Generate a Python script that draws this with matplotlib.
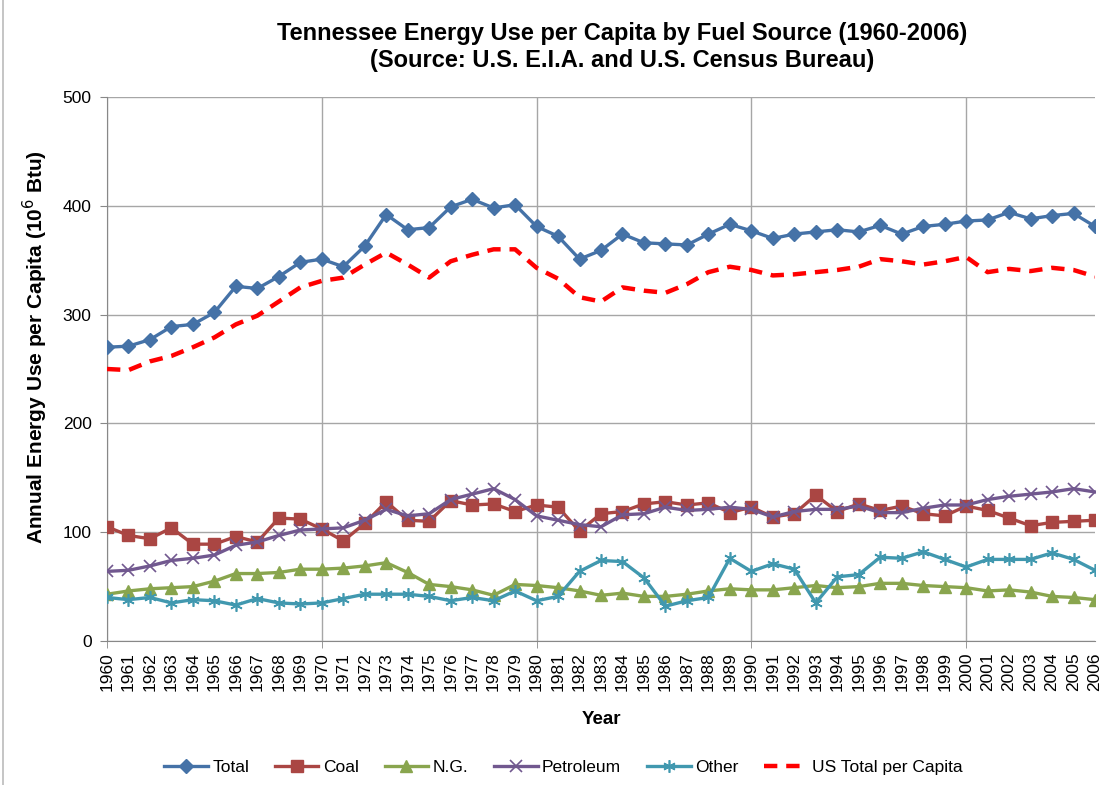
import matplotlib
matplotlib.use("Agg")
import matplotlib.pyplot as plt
from matplotlib.lines import Line2D

plt.rcParams['font.family'] = ['Liberation Sans', 'DejaVu Sans']

# yearly per-capita energy use, million Btu
years = list(range(1960, 2007))

total = [270, 271, 277, 289, 291, 302, 326, 324, 335, 348,
         351, 344, 363, 392, 378, 380, 399, 406, 398, 401,
         381, 372, 351, 359, 374, 366, 365, 364, 374, 383,
         377, 370, 374, 376, 378, 376, 382, 374, 381, 383,
         386, 387, 394, 388, 391, 393, 381]
coal = [105, 97, 94, 104, 89, 89, 96, 91, 113, 112,
        103, 92, 108, 128, 111, 110, 129, 125, 126, 119,
        125, 123, 101, 117, 119, 126, 128, 125, 127, 118,
        123, 114, 117, 134, 119, 126, 120, 124, 117, 115,
        124, 120, 113, 106, 109, 110, 111]
ng = [43, 46, 48, 49, 50, 55, 62, 62, 63, 66,
      66, 67, 69, 72, 63, 52, 50, 47, 42, 52,
      51, 49, 46, 42, 44, 41, 41, 43, 46, 48,
      47, 47, 49, 51, 49, 50, 53, 53, 51, 50,
      49, 46, 47, 45, 41, 40, 38]
petroleum = [64, 65, 69, 74, 76, 79, 88, 91, 97, 102,
             103, 104, 111, 121, 115, 117, 130, 135, 140, 130,
             115, 111, 107, 105, 116, 117, 123, 120, 121, 123,
             121, 114, 119, 121, 121, 124, 118, 118, 122, 125,
             125, 130, 133, 135, 137, 140, 137]
other = [40, 38, 40, 35, 38, 37, 33, 39, 35, 34,
         35, 39, 43, 43, 43, 41, 37, 40, 37, 46,
         37, 41, 64, 74, 73, 58, 32, 37, 40, 76,
         64, 71, 66, 35, 59, 61, 77, 76, 82, 75,
         68, 75, 75, 75, 81, 75, 65]
us_total = [250, 249, 257, 262, 270, 279, 291, 299, 312, 325,
            331, 334, 346, 357, 346, 334, 349, 355, 360, 360,
            343, 333, 316, 312, 325, 322, 320, 328, 339, 344,
            341, 336, 337, 339, 341, 344, 351, 349, 346, 349,
            353, 339, 342, 340, 343, 341, 335]

fig = plt.figure(figsize=(11.05, 7.85), dpi=100)
ax = fig.add_axes([107 / 1105, 1 - 641 / 785, (1095 - 107) / 1105, (641 - 97) / 785])

lw = 2.4
ax.plot(years, total, color="#4572A7", lw=lw, marker="D", ms=7, label="Total", zorder=5)
ax.plot(years, coal, color="#AA4643", lw=lw, marker="s", ms=8, label="Coal", zorder=4)
ax.plot(years, ng, color="#89A54E", lw=lw, marker="^", ms=8, label="N.G.", zorder=3)
ax.plot(years, petroleum, color="#71588F", lw=lw, marker="x", ms=8, mew=1.2,
        label="Petroleum", zorder=4)
ax.plot(years, other, color="#4198AF", lw=lw, marker=(6, 2, 0), ms=9, mew=1.2,
        label="Other", zorder=3)
ax.plot(years, us_total, color="#FF0000", lw=3.2, ls=(0, (3, 2)),
        label="US Total per Capita", zorder=6)

ax.set_xlim(1960, 2006)
ax.set_ylim(0, 500)
ax.set_yticks(range(0, 501, 100))

# every year gets a label, decades get a tick mark and a gridline
ax.xaxis.remove_overlapping_locs = False
ax.set_xticks(years)
ax.set_xticklabels([str(y) for y in years], rotation=90, fontsize=12.5)
ax.set_xticks(range(1960, 2007, 10), minor=True)
ax.tick_params(axis="x", which="major", length=0, pad=8)
ax.tick_params(axis="x", which="minor", length=5, color="#888888")
ax.tick_params(axis="y", length=5, color="#888888", labelsize=12.5, pad=6)

ax.grid(True, axis="y", which="major", color="#A6A6A6", lw=1)
ax.grid(True, axis="x", which="minor", color="#A6A6A6", lw=1)
ax.set_axisbelow(True)
for side in ["top", "right"]:
    ax.spines[side].set_visible(False)
for side in ["left", "bottom"]:
    ax.spines[side].set_color("#888888")

ax.set_xlabel("Year", fontsize=13.5, fontweight="bold", labelpad=14)
ax.set_ylabel("Annual Energy Use per Capita (10$^6$ Btu)", fontsize=15,
              fontweight="bold")
ax.yaxis.set_label_coords(-0.058, 0.54)
fig.text(0.563, 0.94, "Tennessee Energy Use per Capita by Fuel Source (1960-2006)\n"
         "(Source: U.S. E.I.A. and U.S. Census Bureau)",
         ha="center", va="center", fontsize=17, fontweight="bold", linespacing=1.25)

fig.legend(loc="center", bbox_to_anchor=(0.51, 0.022), ncol=6, frameon=False,
           fontsize=12.5, handlelength=2.5, columnspacing=1.5, handletextpad=0.25)

# left edge of the chart frame
fig.lines.append(Line2D([0.003, 0.003], [0, 1], transform=fig.transFigure,
                        color="#BBBBBB", lw=1.2))

fig.savefig("out.png", dpi=100)
